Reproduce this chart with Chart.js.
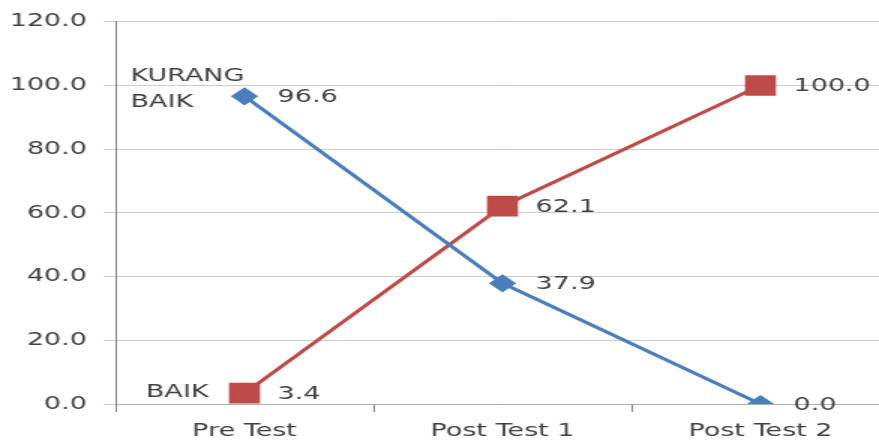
<!DOCTYPE html>
<html>
<head>
<meta charset="utf-8">
<script src="https://cdn.jsdelivr.net/npm/chart.js@4"></script>
<style>
  html, body { margin: 0; padding: 0; background: #fff; overflow: hidden; }
  #wrap { width: 593px; height: 445px; transform: scaleX(1.5); transform-origin: 0 0; }
  #chart { display: block; }
</style>
</head>
<body>
<div id="wrap"><canvas id="chart" width="593" height="445"></canvas></div>
<script>
const categories = ['Pre Test', 'Post Test 1', 'Post Test 2'];
const dataKurangBaik = [96.6, 37.9, 0.0];
const dataBaik = [3.4, 62.1, 100.0];
const seriesNames = [['KURANG', 'BAIK'], ['BAIK']];

const fontFamily = '"DejaVu Sans", Verdana, sans-serif';
const textColor = '#404040';

// value labels to the right of each point + series names beside the first point
const labelPlugin = {
    id: 'pointLabels',
    afterDatasetsDraw(chart) {
        const ctx = chart.ctx;
        ctx.save();
        ctx.font = '18px ' + fontFamily;
        ctx.fillStyle = textColor;
        ctx.textBaseline = 'middle';
        chart.data.datasets.forEach((ds, i) => {
            const meta = chart.getDatasetMeta(i);
            meta.data.forEach((pt, j) => {
                ctx.textAlign = 'left';
                ctx.fillText(ds.data[j].toFixed(1), pt.x + 22, pt.y + 1);
            });
            const first = meta.data[0];
            if (i === 0) {
                ctx.textAlign = 'left';
                ctx.fillText(seriesNames[0][0], first.x - 76, first.y - 20);
                ctx.fillText(seriesNames[0][1], first.x - 76, first.y + 6);
            } else {
                ctx.textAlign = 'right';
                ctx.fillText(seriesNames[1][0], first.x - 24, first.y - 1);
            }
        });
        ctx.restore();
    }
};

new Chart(document.getElementById('chart'), {
    type: 'line',
    data: {
        labels: categories,
        datasets: [
            {
                label: 'KURANG BAIK',
                data: dataKurangBaik,
                borderColor: '#4a7ebb',
                backgroundColor: '#4a7ebb',
                borderWidth: 3,
                pointStyle: 'rectRot',
                pointRadius: 7,
                pointHoverRadius: 7,
                tension: 0
            },
            {
                label: 'BAIK',
                data: dataBaik,
                borderColor: '#be4b48',
                backgroundColor: '#be4b48',
                borderWidth: 3,
                pointStyle: 'rect',
                pointRadius: 12.5,
                pointHoverRadius: 12.5,
                tension: 0
            }
        ]
    },
    options: {
        responsive: false,
        animation: false,
        layout: { autoPadding: false, padding: { top: 20, right: 0, bottom: 0, left: 0 } },
        plugins: {
            legend: { display: false },
            tooltip: { enabled: false }
        },
        scales: {
            x: {
                offset: true,
                afterFit(scale) { scale.height = 41; },
                grid: {
                    offset: true,
                    drawOnChartArea: false,
                    drawTicks: true,
                    tickLength: 8,
                    color: '#868686'
                },
                border: { color: '#b0b0b0', width: 1 },
                ticks: {
                    padding: 9,
                    maxRotation: 0,
                    autoSkip: false,
                    color: textColor,
                    font: { family: fontFamily, size: 18 }
                }
            },
            y: {
                min: 0,
                max: 120,
                afterFit(scale) { scale.width = 77; },
                grid: {
                    color: '#cfcfcf',
                    tickLength: 8
                },
                border: { color: '#868686', width: 1 },
                ticks: {
                    stepSize: 20,
                    padding: 11,
                    color: textColor,
                    font: { family: fontFamily, size: 18 },
                    callback: v => v.toFixed(1)
                }
            }
        }
    },
    plugins: [labelPlugin]
});
</script>
</body>
</html>
